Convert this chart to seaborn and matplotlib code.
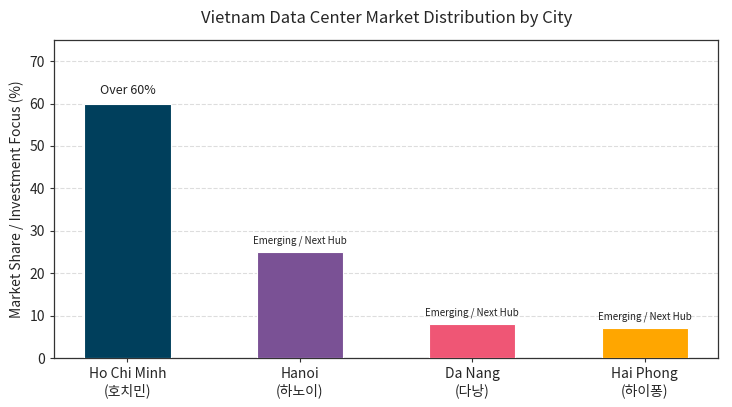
import numpy as np
import pandas as pd
import matplotlib
matplotlib.use('Agg')
import matplotlib.pyplot as plt
import seaborn as sns

# data
cities = ['Ho Chi Minh\n(호치민)', 'Hanoi\n(하노이)', 'Da Nang\n(다낭)', 'Hai Phong\n(하이퐁)']
share = [60, 25, 8, 7]
notes = ['Over 60%', 'Emerging / Next Hub', 'Emerging / Next Hub', 'Emerging / Next Hub']
colors = ['#003f5c', '#7a5195', '#ef5675', '#ffa600']

sns.set_style('white')
plt.rcParams['font.family'] = ['Noto Sans CJK KR', 'DejaVu Sans']

df = pd.DataFrame({'city': cities, 'share': share})

fig, ax = plt.subplots(figsize=(7.32, 4.07), dpi=100)
sns.barplot(data=df, x='city', y='share', hue='city', palette=colors, legend=False,
            width=0.5, saturation=1, edgecolor='white', linewidth=0.8, ax=ax, zorder=3)

for i, (v, t) in enumerate(zip(share, notes)):
    ax.text(i, v + 1.5, t, ha='center', va='bottom',
            fontsize=9 if i == 0 else 7, color='#222222')

ax.set_xlim(-0.425, len(cities) - 1 + 0.425)
ax.set_ylim(0, 75)
ax.set_yticks(np.arange(0, 71, 10))
ax.yaxis.grid(True, linestyle='--', color='#dddddd', linewidth=0.8, zorder=0)
ax.set_axisbelow(True)
ax.set_xlabel('')
ax.set_ylabel('Market Share / Investment Focus (%)', fontsize=10)
ax.set_title('Vietnam Data Center Market Distribution by City', fontsize=12, pad=12)
ax.tick_params(axis='both', labelsize=10, length=3, color='#333333', left=True, bottom=True)
for s in ax.spines.values():
    s.set_color('#333333')
    s.set_linewidth(0.9)

plt.subplots_adjust(left=0.074, right=0.981, top=0.902, bottom=0.12)
plt.savefig('out.png', dpi=100)
